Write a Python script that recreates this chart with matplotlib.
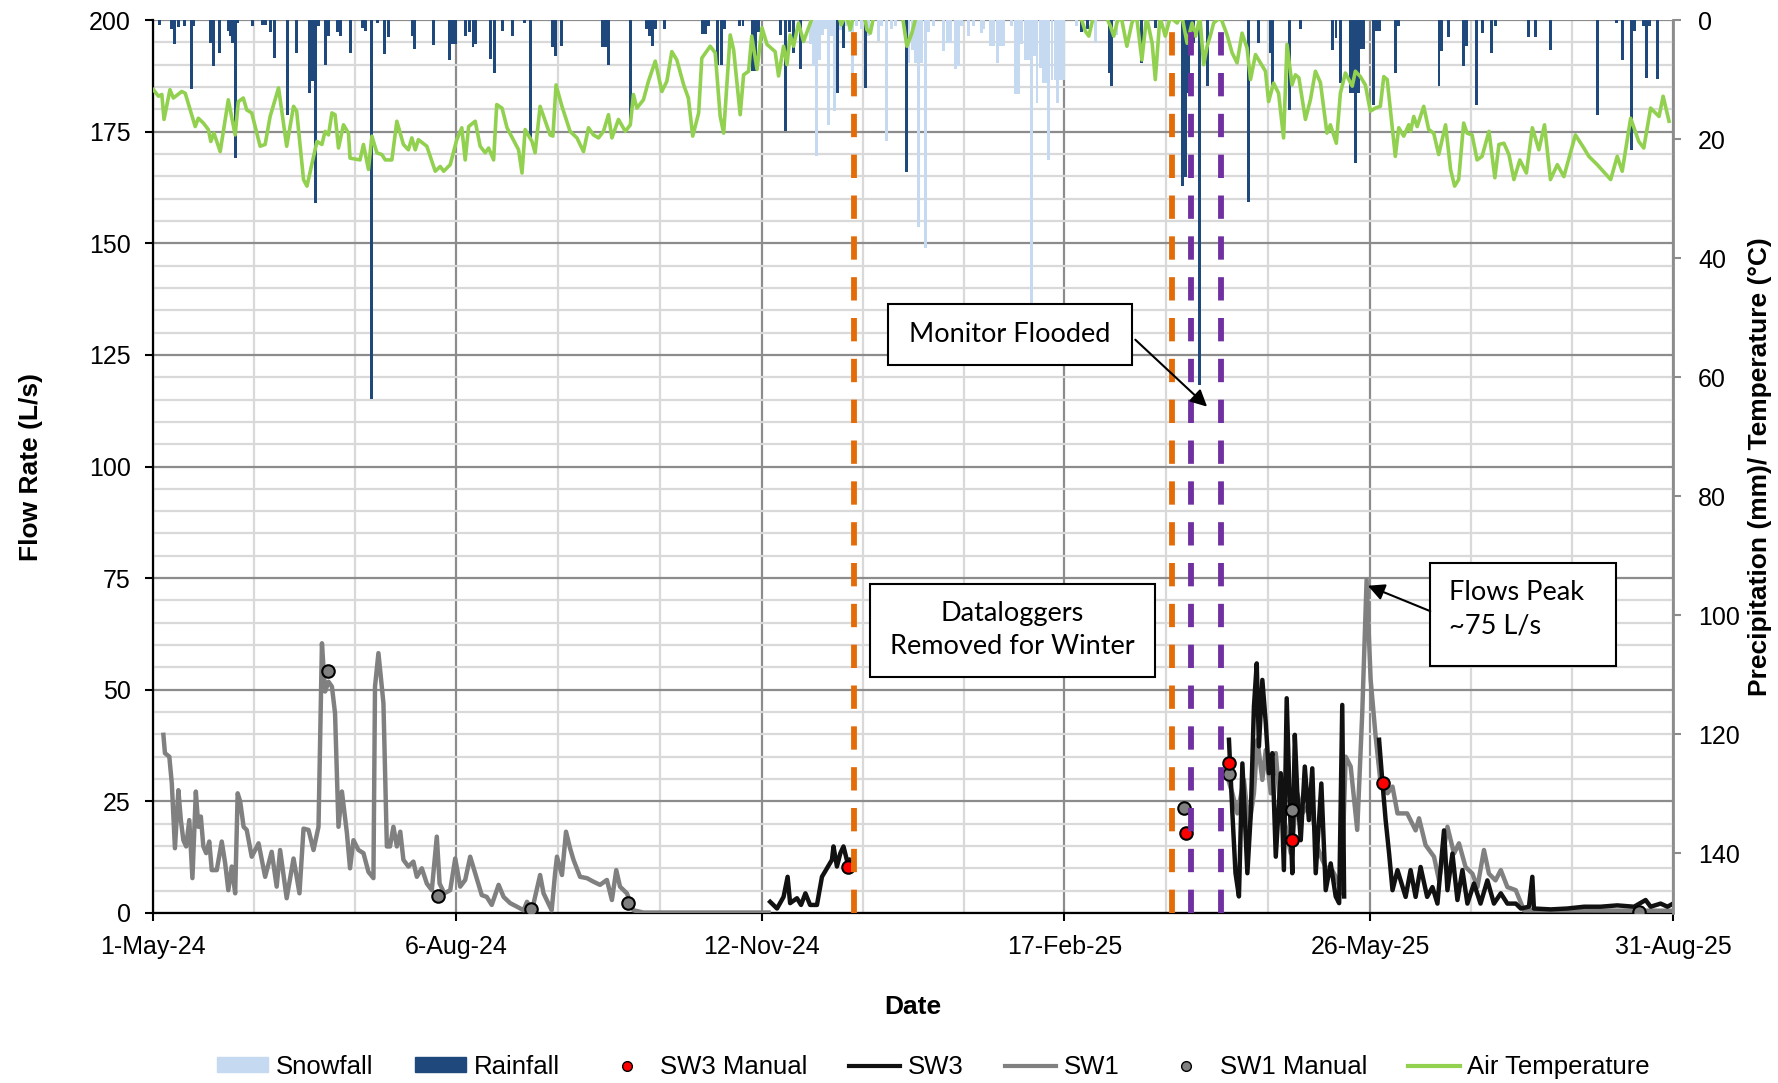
import numpy as np
import pandas as pd
import matplotlib
matplotlib.use('Agg')
import matplotlib.pyplot as plt
from matplotlib.patches import Patch, Rectangle
from matplotlib.lines import Line2D

plt.rcParams['font.family'] = ['Liberation Sans', 'DejaVu Sans']

# x axis: days since 1-May-24
start = pd.Timestamp('2024-05-01')
tick_dates = ['2024-05-01', '2024-08-06', '2024-11-12', '2025-02-17', '2025-05-26', '2025-08-31']
tick_labels = ['1-May-24', '6-Aug-24', '12-Nov-24', '17-Feb-25', '26-May-25', '31-Aug-25']

# daily rainfall (mm)
rain_days = [2.2, 6, 7, 8, 10, 12.2, 13, 18.3, 19.3, 21.2,
             24, 24.8, 25.5, 26.3, 27, 32, 35, 36, 37.7, 39,
             43.2, 46, 50, 51, 52.1, 53, 55.1, 56.3, 59, 60,
             63.1, 67, 68, 70.1, 72, 74, 75.5, 83, 83.7, 89.8,
             95, 96, 97, 100, 101.5, 102.5, 103.2, 108, 109.3, 112,
             115, 119, 120.8, 128, 129, 131, 144, 145, 145.9, 152.9,
             158, 159, 160, 161, 164, 176, 177, 178, 180.7, 182,
             183, 188, 189, 192, 193, 194, 201, 202.5, 204, 205.2,
             207.4, 219.4, 221.2, 228.2, 241.5, 297.5, 299.5, 306.5, 307.2, 316.8,
             321.1, 322.7, 329.7, 330.7, 331.7, 332.7, 333.4, 335.3, 337.9, 351,
             354.2, 358, 358.8, 364.1, 367.6, 378, 379, 380.4, 383.7, 384.5,
             385.3, 386.2, 387, 387.8, 390.9, 392, 393, 398, 399, 412,
             412.8, 415, 420, 420.8, 424, 425.8, 428.9, 430, 440.8, 442.9,
             447.8, 462.7, 469, 470.7, 473.6, 474.5, 477.5, 478.6, 479.5, 482]
rain_mm = [0.8, 1.5, 4.0, 1.2, 1.0, 11.6, 1.0, 3.9, 7.8, 5.5,
           1.8, 2.7, 3.8, 23.2, 0.5, 1.0, 0.8, 0.8, 2.0, 6.3,
           15.9, 5.5, 12.3, 10.3, 30.7, 1.0, 7.5, 2.6, 2.0, 2.7,
           5.5, 1.3, 1.8, 63.6, 0.5, 5.7, 2.8, 2.6, 4.9, 4.2,
           6.7, 4.0, 4.0, 2.6, 2.0, 4.5, 4.0, 6.5, 8.9, 1.8,
           2.7, 0.5, 20.0, 4.6, 6.0, 4.3, 4.6, 4.6, 7.5, 17.3,
           1.5, 2.6, 4.4, 1.5, 1.5, 2.3, 2.3, 1.0, 7.5, 7.5,
           1.5, 1.0, 1.0, 8.6, 8.6, 2.0, 2.5, 18.7, 2.0, 5.5,
           8.3, 12.3, 4.7, 11.4, 25.5, 2.0, 1.5, 8.9, 11.1, 7.2,
           1.3, 1.3, 27.9, 26.3, 12.3, 4.0, 3.9, 61.3, 11.1, 30.5,
           3.9, 5.5, 10.9, 15.1, 1.5, 5.0, 3.0, 10.6, 12.3, 12.3,
           24.0, 12.3, 4.9, 4.9, 14.2, 1.8, 1.8, 8.9, 1.0, 11.1,
           5.2, 2.8, 7.8, 4.4, 14.2, 2.2, 5.5, 1.0, 2.9, 2.9,
           5.1, 15.9, 0.5, 6.7, 21.8, 1.8, 1.0, 9.7, 1.0, 9.9]

# daily snowfall (mm)
snow_days = [210.5, 211.5, 212.5, 213.5, 214.5, 215.5, 216.4, 217.5, 218.2, 219,
             220.2, 222, 223, 224.2, 225.5, 227, 229.2, 230.5, 232.5, 233.5,
             235.1, 236.5, 238, 242.1, 243.2, 244.2, 245.3, 246.3, 247.4, 248.5,
             250, 253.3, 254.4, 255.4, 257, 258, 259, 261.3, 263, 265.3,
             266.2, 268.3, 269.3, 270.4, 271.5, 272.5, 275, 276.2, 277.2, 278.2,
             279.5, 280.5, 281.4, 282.3, 283.2, 284.2, 285.4, 286.2, 287, 288,
             289, 289.8, 290.8, 291.8, 296, 301.9, 308.8]
snow_mm = [4.0, 7.8, 22.9, 6.7, 2.5, 1.5, 17.6, 2.7, 15.3, 5.5,
           1.6, 1.0, 2.0, 12.0, 1.0, 1.5, 2.7, 1.0, 3.6, 1.0,
           20.4, 1.5, 1.0, 7.2, 5.0, 7.2, 34.7, 7.2, 38.3, 2.0,
           1.0, 5.2, 3.9, 3.9, 8.3, 7.8, 1.0, 2.7, 1.0, 2.2,
           1.5, 4.4, 4.4, 7.2, 4.4, 4.4, 1.0, 12.5, 12.5, 4.0,
           6.7, 6.7, 47.5, 6.0, 13.9, 8.0, 10.6, 10.6, 23.5, 10.0,
           10.0, 13.9, 10.0, 10.0, 1.0, 3.9, 2.5]

# air temperature (deg C), below zero falls off the top of the inverted axis
temp_days = [0.1, 1.7, 2.8, 3.5, 5.4, 6.5, 9.2, 10.3, 13.5, 14.5,
             16.1, 17.7, 18.5, 19.5, 21.5, 24.1, 26.3, 27.3, 28.9, 30.0,
             31.6, 34.3, 35.9, 37.5, 40.2, 42.8, 45.0, 46.0, 48.2, 49.3,
             52.5, 54.1, 55.1, 56.2, 57.3, 58.3, 59.4, 61.0, 62.6, 63.1,
             66.3, 67.4, 69.0, 70.1, 71.7, 73.3, 74.4, 76.5, 78.1, 80.2,
             81.8, 82.9, 84.0, 85.0, 87.7, 90.4, 92.0, 93.1, 95.2, 97.3,
             98.9, 100.0, 101.1, 103.2, 104.8, 106.4, 107.5, 109.1, 110.1, 111.8,
             113.4, 117.1, 118.2, 119.2, 121.4, 122.4, 124.0, 127.2, 128.1, 129.1,
             131.0, 133.6, 135.8, 137.9, 139.5, 141.1, 142.7, 144.3, 145.9, 147.0,
             149.1, 151.3, 152.9, 153.9, 155.0, 157.1, 158.7, 160.9, 163.0, 164.6,
             166.2, 167.8, 170.0, 171.5, 172.9, 174.8, 175.8, 178.5, 180.1, 181.7,
             182.8, 184.9, 186.0, 188.1, 189.2, 190.8, 191.8, 193.5, 195.1, 196.7,
             199.3, 200.4, 202.0, 203.1, 204.1, 205.2, 206.8, 208.4, 210.0, 211.6,
             214, 217, 219.5, 220.5, 222, 223.4, 224.5, 226.5, 227.8, 228.7,
             229.8, 231, 234, 237, 240, 241.5, 243.1, 244.7, 248, 255,
             262, 270, 278, 285, 292, 297.2, 298.7, 299.8, 300.8, 302.5,
             305.4, 306.7, 307.8, 308.8, 310, 312.0, 313.6, 315, 316.8, 318.3,
             320.1, 321.1, 322.6, 324.3, 325.9, 328.1, 329.5, 331.3, 332.9, 334.0,
             335.4, 336.6, 337.7, 338.7, 339.8, 342, 344.1, 345.7, 347.3, 348.9,
             350.5, 351.6, 353.2, 354.8, 356.4, 357.4, 359.0, 360.6, 362.2, 363.3,
             364.9, 366.0, 367.1, 369.2, 370.8, 372.4, 374.0, 376.1, 377.2, 379.1,
             380.4, 382.0, 384.2, 385.2, 386.8, 388.4, 390.0, 391.6, 393.2, 394.3,
             395.4, 398.0, 399.1, 400.7, 402.3, 402.9, 403.9, 405.0, 407.1, 408.7,
             410.3, 411.9, 414.1, 415.7, 417.0, 418.3, 419.9, 421.0, 422.6, 424.2,
             425.8, 428.0, 429.9, 431.2, 432.8, 434.4, 436.0, 437.9, 440.0, 441.9,
             444.0, 445.8, 447.7, 449.9, 452.0, 455.7, 458.4, 460.0, 462.7, 467.0,
             469.1, 470.7, 473.4, 476.0, 477.6, 479.8, 482.5, 483.8, 485.7]
temp_c = [11.7, 12.8, 12.5, 16.7, 11.7, 13.1, 12.0, 12.3, 17.9, 16.5,
          17.3, 18.4, 20.4, 19.0, 22.1, 13.4, 19.3, 13.7, 13.1, 15.1,
          15.6, 21.2, 20.9, 16.2, 11.4, 21.2, 14.5, 15.3, 26.8, 27.9,
          20.4, 20.9, 18.7, 19.3, 15.6, 15.9, 21.5, 17.6, 19.0, 23.2,
          23.5, 20.9, 25.1, 19.5, 22.3, 22.6, 23.5, 23.5, 17.0, 20.9,
          21.8, 19.8, 21.8, 20.1, 21.2, 25.4, 24.6, 25.4, 24.3, 20.1,
          18.1, 23.5, 17.9, 17.0, 21.2, 22.3, 21.5, 23.5, 14.2, 14.8,
          18.1, 21.8, 25.7, 18.4, 20.4, 22.3, 14.5, 19.3, 19.5, 10.9,
          14.5, 18.7, 19.8, 22.1, 18.1, 19.3, 19.8, 18.7, 15.9, 19.8,
          16.7, 18.7, 17.6, 12.5, 14.8, 13.4, 10.3, 6.9, 12.0, 10.3,
          5.3, 6.7, 10.9, 13.1, 19.5, 15.6, 6.4, 4.4, 5.5, 16.2,
          19.0, 2.5, 5.0, 15.9, 9.2, 8.6, 2.7, 8.3, 1.3, 4.1,
          5.3, 9.4, 4.4, 7.5, 2.5, 4.4, 0.5, 3.6, 1.3, -1,
          -6, -9, -1, 0.8, -1, 1.6, -1, -8, -1, 1.6,
          2.2, -1, -10, -7, -1, 4.4, 2.2, -1, -10, -15,
          -8, -12, -9, -14, -6, -0.5, 1.9, 2.7, 0.5, -3,
          -0.5, 1.0, 2.7, 0.5, -1, 4.4, 0.5, -1, 6.7, -0.5,
          3.9, 10.0, -0.5, 2.7, -0.5, 0.5, -1, 3.9, 0.5, 2.7,
          -0.5, 7.5, 4.4, 2.7, 0.5, -0.5, 2.5, 5.5, 7.2, 2.2,
          4.7, 10.0, 5.8, 7.2, 8.6, 13.7, 10.6, 12.3, 19.8, 4.1,
          10.9, 9.2, 9.7, 16.7, 13.4, 8.6, 10.5, 19.0, 17.6, 20.7,
          12.3, 8.9, 11.1, 8.6, 9.5, 10.9, 15.3, 14.8, 14.5, 9.5,
          10.0, 22.9, 18.1, 19.5, 17.6, 18.7, 16.2, 17.9, 14.5, 18.4,
          19.0, 22.6, 17.6, 25.1, 27.9, 26.8, 17.3, 19.0, 19.3, 23.5,
          22.9, 18.7, 26.5, 20.9, 20.7, 22.6, 26.8, 23.5, 25.7, 18.1,
          21.8, 17.6, 26.8, 24.3, 26.3, 19.3, 21.5, 22.9, 24.3, 26.8,
          22.9, 25.4, 16.5, 20.4, 21.5, 14.8, 16.2, 12.8, 17.0]

# SW1 flow (L/s)
sw1_days = [3.3, 3.8, 5.2, 6.0, 7.0, 8.1, 8.9, 9.7, 10.6, 11.6,
            12.6, 13.7, 14.5, 15.3, 16.1, 17.0, 18.0, 18.8, 20.4, 22.0,
            23.1, 24.1, 25.2, 26.3, 27.1, 27.9, 29.0, 30.0, 31.6, 32.7,
            33.8, 35.9, 38.0, 39.6, 40.7, 42.8, 45.0, 46.9, 48.2, 49.8,
            51.4, 53.0, 54.1, 55.1, 56.2, 57.3, 58.3, 59.4, 60.5, 62.1,
            63.1, 64.2, 65.8, 67.4, 69.0, 70.6, 71.1, 72.2, 73.8, 74.9,
            75.9, 77.0, 78.1, 79.2, 80.2, 81.8, 83.4, 84.5, 86.1, 87.7,
            89.3, 90.9, 91.8, 93.3, 95.2, 96.8, 98.4, 100.0, 101.6, 103.2,
            105.3, 106.9, 108.5, 110.7, 112.3, 114.4, 116.6, 118.7, 119.8, 121.4,
            122.4, 124.0, 125.1, 127.7, 128.8, 129.4, 131.0, 132.3, 133.6, 134.7,
            136.8, 139.0, 141.1, 143.2, 145.4, 147.0, 148.4, 149.6, 151.8, 153.9,
            157.1, 197.2, np.nan,
            344.2, 345.8, 347.4, 349.5, 351.1, 352.7, 353.8, 355.4, 356.5, 358.1,
            359.7, 361.3, 362.9, 364.5, 366.6, 368.2, 369.8, 371.4, 373.0, 374.6,
            376.2, 377.8, 379.4, 380.7, 382.1, 383.7, 385.8, 387.4, 388.8, 390.1,
            391.7, 393.3, 395.5, 397.1, 398.7, 401.8, 404.5, 405.6, 407.7, 410.4,
            412.0, 414.7, 416.8, 418.4, 420.5, 422.7, 424.3, 426.4, 428.0, 430.1,
            431.8, 433.9, 436.6, 439.2, 487]
sw1_flow = [39.9, 35.8, 35.0, 29.0, 14.5, 27.5, 20.8, 16.3, 14.9, 20.8,
            7.8, 27.2, 19.3, 21.6, 14.9, 13.4, 16.0, 9.6, 9.6, 16.0,
            11.1, 5.1, 10.4, 4.4, 26.8, 25.0, 19.3, 18.6, 12.6, 14.1,
            15.6, 8.1, 13.7, 5.9, 14.1, 3.3, 12.2, 4.4, 18.9, 18.6,
            14.1, 19.3, 60.4, 49.6, 51.8, 50.7, 44.7, 19.3, 27.2, 17.9,
            10.0, 16.3, 14.1, 13.4, 9.2, 7.8, 50.7, 58.2, 47.0, 14.9,
            14.9, 19.3, 14.9, 18.2, 11.9, 10.4, 11.5, 8.1, 10.0, 6.6,
            5.1, 17.1, 6.6, 4.4, 5.1, 12.2, 5.9, 7.4, 12.6, 8.9,
            4.0, 3.6, 1.8, 6.3, 3.6, 2.2, 1.4, 0.6, 2.5, 0.6,
            3.6, 8.5, 4.4, 0.6, 8.9, 12.6, 8.5, 18.2, 14.5, 11.9,
            8.1, 7.8, 7.0, 6.3, 7.4, 2.9, 9.6, 5.9, 4.4, 0.6,
            0.1, 0.1, np.nan,
            30.5, 26.8, 22.3, 29.8, 19.3, 26.8, 38.8, 29.8, 36.5, 26.8,
            35.8, 22.3, 19.3, 13.4, 26.8, 22.3, 23.8, 22.3, 14.9, 11.9,
            9.6, 9.6, 7.4, 4.4, 35.0, 32.8, 18.6, 44.7, 74.6, 52.2,
            39.5, 29.0, 26.8, 28.3, 22.3, 22.3, 18.5, 21.2, 15.2, 12.6,
            7.3, 19.3, 13.3, 15.6, 10.3, 8.8, 5.8, 14.1, 8.8, 7.3,
            9.6, 5.8, 5.1, 0.6, 0.5]

# SW3 flow (L/s)
sw3_days = [197.7, 199.9, 202.0, 203.3, 204.1, 206.3, 207.6, 209.0, 210.5, 212.7,
            214.3, 215.9, 217.5, 218.0, 219.1, 220.2, 221.2, 222.8, 223.4, np.nan,
            344.7, 345.8, 346.8, 347.9, 349.0, 350.6, 351.7, 352.7, 353.6, 354.3,
            355.4, 356.5, 357.5, 358.6, 359.7, 361.3, 362.3, 363.2, 364.3, 365.0,
            365.8, 366.6, 367.7, 369.0, 370.3, 371.4, 372.5, 374.3, 375.7, 377.3,
            378.9, 380.0, 381.0, 381.6, np.nan, 392.8, 393.9, 394.9, 396.0, 397.1,
            398.7, 401.3, 402.9, 404.5, 406.1, 408.2, 409.9, 411.5, 413.6, 414.7,
            416.3, 417.9, 419.5, 421.1, 423.2, 425.3, 427.5, 429.6, 431.8, 433.9,
            436.6, 438.2, 440.8, 441.9, 442.4, 447.8, 453.1, 458.5, 463.8, 469.1,
            474.5, 478.2, 479.8, 483.0, 485.2, 487.0]
sw3_flow = [2.5, 1.0, 3.6, 8.1, 2.2, 3.3, 1.8, 4.4, 1.8, 1.8,
            8.1, 10.0, 11.9, 14.9, 10.4, 13.4, 14.9, 10.4, 11.9, np.nan,
            38.8, 22.3, 8.9, 3.7, 33.5, 8.9, 22.3, 46.2, 55.9, 37.3,
            52.2, 42.5, 31.3, 35.8, 12.6, 31.3, 9.6, 48.1, 22.3, 8.9,
            39.9, 26.8, 16.3, 32.8, 20.8, 32.4, 8.9, 29.0, 5.1, 11.1,
            3.7, 2.2, 46.6, 3.7, np.nan, 38.8, 29.0, 20.8, 13.4, 5.1,
            9.6, 3.6, 9.6, 3.6, 10.3, 3.6, 5.8, 2.1, 18.5, 5.1,
            13.3, 2.9, 9.6, 2.1, 6.6, 2.1, 7.3, 2.1, 4.4, 2.1,
            2.1, 1.0, 1.4, 8.1, 1.0, 0.8, 1.0, 1.4, 1.4, 1.7,
            1.4, 2.9, 1.4, 2.1, 1.4, 2.1]

# manual measurements
sw1_manual_days = [56.2, 91.2, 121.2, 152.0, 330.3, 344.7, 365.0, 476.1]
sw1_manual_flow = [54.1, 3.9, 0.8, 2.2, 23.4, 31.1, 23.1, 0.2]
sw3_manual_days = [222.8, 330.8, 344.7, 365.0, 393.9]
sw3_manual_flow = [10.2, 18.0, 33.7, 16.3, 29.0]

# event lines
datalogger_days = [224.5, 326.5]
flooded_days = [332.4, 342.3]

fig, ax = plt.subplots(figsize=(17.78, 10.83), dpi=100)
fig.subplots_adjust(left=0.0861, right=0.941, top=0.9815, bottom=0.157)
ax2 = ax.twinx()

major = [(pd.Timestamp(d) - start).days for d in tick_dates]
minor = []
for a, b in zip(major[:-1], major[1:]):
    minor += [a + (b - a) / 3, a + 2 * (b - a) / 3]

ax.set_xlim(major[0], major[-1])
ax.set_ylim(0, 200)
ax2.set_ylim(150, 0)

ax.set_xticks(major)
ax.set_xticklabels(tick_labels)
ax.set_xticks(minor, minor=True)
ax.set_yticks(np.arange(0, 201, 25))
ax.set_yticks([v for v in range(0, 201, 5) if v % 25], minor=True)
ax.grid(which='minor', color='#d9d9d9', lw=1.6)
ax.grid(which='major', color='#8c8c8c', lw=1.6)
ax.set_axisbelow(True)
ax.tick_params(which='minor', length=0)
ax.tick_params(which='major', direction='out', length=6, width=1.5, labelsize=18, pad=10)
ax2.set_yticks(np.arange(0, 141, 20))
ax2.tick_params(direction='out', length=6, width=1.5, labelsize=18, pad=12, color='#8c8c8c')

for s in ['top', 'right']:
    ax.spines[s].set_visible(False)
ax.spines['left'].set_linewidth(1.6)
ax.spines['bottom'].set_linewidth(1.6)
for s in ['top', 'left', 'bottom']:
    ax2.spines[s].set_visible(False)
ax2.spines['right'].set_color('#8c8c8c')
ax2.spines['right'].set_linewidth(2)

# flows on the left axis
ax.plot(sw1_days, sw1_flow, color='#808080', lw=3.2, zorder=3)
ax.plot(sw3_days, sw3_flow, color='#111111', lw=3.2, zorder=4)
ax.plot(sw1_manual_days, sw1_manual_flow, 'o', ms=9, mfc='#808080', mec='black', mew=1.5, zorder=5)
ax.plot(sw3_manual_days, sw3_manual_flow, 'o', ms=9, mfc='#ff0000', mec='black', mew=1.5, zorder=6)

# precipitation and temperature on the right (inverted) axis
ax2.bar(snow_days, snow_mm, width=0.95, color='#c5d9f1', zorder=2)
ax2.bar(rain_days, rain_mm, width=0.95, color='#1f497d', zorder=2)
ax2.plot(temp_days, temp_c, color='#92d050', lw=2.6, zorder=3)

for d in datalogger_days:
    ax2.axvline(d, color='#e36c09', lw=4.2, dashes=(4, 3), zorder=4)
for d in flooded_days:
    ax2.axvline(d, color='#7030a0', lw=4.2, dashes=(4, 3), zorder=4)

# annotation boxes
box_font = dict(family=['Lato', 'DejaVu Sans'], fontsize=19.5, color='black')
boxes = [(235.5, 122.7, 78.1, 13.8), (229.7, 52.9, 91.2, 20.8), (409.2, 55.4, 59.6, 22.9)]
for x0, y0, w, h in boxes:
    ax2.add_patch(Rectangle((x0, y0), w, h, transform=ax.transData, fc='white',
                            ec='black', lw=1.5, zorder=7))
ax2.text(274.5, 129.6, 'Monitor Flooded', transform=ax.transData, ha='center', va='center',
         zorder=8, **box_font)
ax2.text(275.3, 63.3, 'Dataloggers\nRemoved for Winter', transform=ax.transData, ha='center',
         va='center', linespacing=1.4, zorder=8, **box_font)
ax2.text(415.3, 68.0, 'Flows Peak\n~75 L/s', transform=ax.transData, ha='left',
         va='center', linespacing=1.4, zorder=8, **box_font)
arrow = dict(arrowstyle='-|>', color='black', lw=1.5, mutation_scale=25, shrinkA=0, shrinkB=0)
ax2.annotate('', xy=(337.7, 113.4), xytext=(314.7, 128.4), xycoords=ax.transData,
             textcoords=ax.transData, arrowprops=arrow, zorder=8)
ax2.annotate('', xy=(389.2, 73.3), xytext=(409.2, 67.6), xycoords=ax.transData,
             textcoords=ax.transData, arrowprops=arrow, zorder=8)

ax.set_xlabel('Date', fontsize=19, fontweight='bold', labelpad=26)
ax.set_ylabel('Flow Rate (L/s)', fontsize=19, fontweight='bold', labelpad=33)
ax2.set_ylabel('Precipitation (mm)/ Temperature (°C)', fontsize=19, fontweight='bold', labelpad=6)

handles = [
    Patch(color='#c5d9f1', label='Snowfall'),
    Patch(color='#1f497d', label='Rainfall'),
    Line2D([], [], ls='none', marker='o', ms=7, mfc='#ff0000', mec='black', label='SW3 Manual'),
    Line2D([], [], color='#111111', lw=3, label='SW3'),
    Line2D([], [], color='#808080', lw=3, label='SW1'),
    Line2D([], [], ls='none', marker='o', ms=7, mfc='#808080', mec='black', label='SW1 Manual'),
    Line2D([], [], color='#92d050', lw=3, label='Air Temperature'),
]
fig.legend(handles=handles, loc='center', bbox_to_anchor=(0.525, 0.015), ncol=7,
           frameon=False, fontsize=18.5, handlelength=2.0, handleheight=0.5,
           handletextpad=0.3, columnspacing=1.6)

fig.savefig('out.png', dpi=100)
